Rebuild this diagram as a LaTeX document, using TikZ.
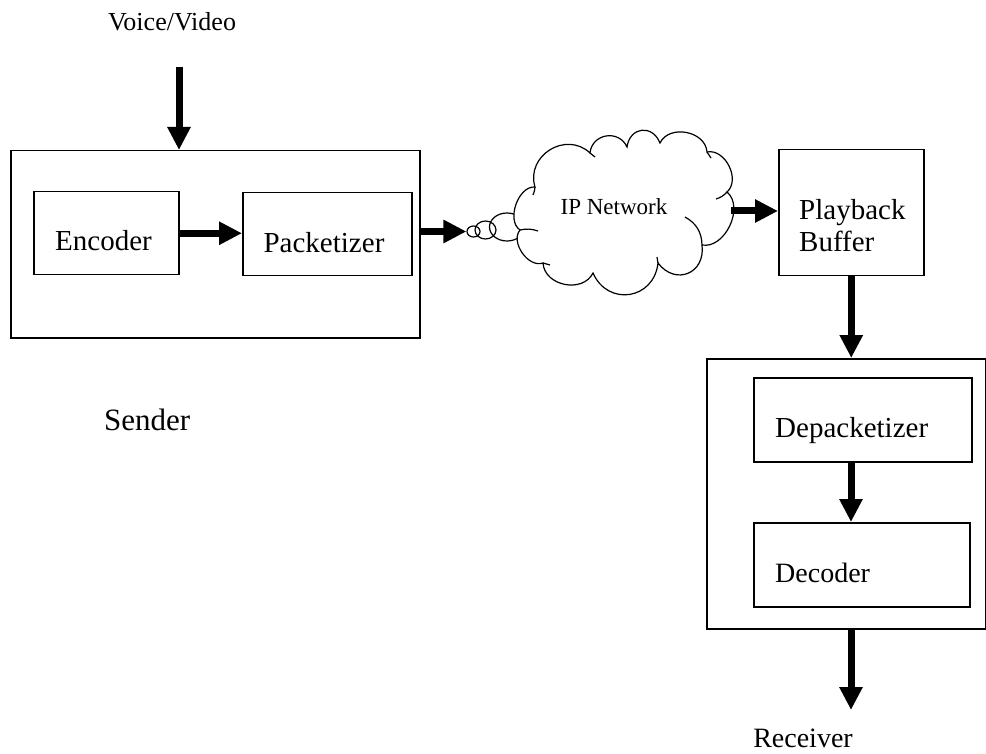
\documentclass[tikz,border=0pt]{standalone}
\usepackage{fontspec}
\setmainfont{Liberation Serif}
\usetikzlibrary{arrows.meta,shapes.geometric}

\tikzset{
  blk/.style={draw,line width=1.5pt,inner sep=0pt},
  flow/.style={line width=7pt,-{Triangle[length=23pt,width=22pt]}},
  txt/.style={inner sep=0pt,font=\fontsize{29}{32}\selectfont},
  bub/.style={draw,ellipse,line width=1.2pt,inner sep=0pt},
  puff/.style={bend left=75,looseness=#1},
  puff/.default=1.2
}

\begin{document}
\begin{tikzpicture}[x=1pt,y=-1pt]
\useasboundingbox (0,0) rectangle (986,754);

% sender
\node[blk,anchor=north west,minimum width=409pt,minimum height=187pt] (sender) at (10,150) {};
\node[blk,anchor=north west,minimum width=145pt,minimum height=83pt] (enc) at (33,191) {};
\node[blk,anchor=north west,minimum width=169pt,minimum height=83pt] (pkt) at (242,192) {};
\node[txt,anchor=base] (enctxt) at (103.5,251) {Encoder};
\node[txt,anchor=base] (pkttxt) at (324,253) {Packetizer};
\node[txt,font=\fontsize{26}{30}\selectfont,anchor=base] (src) at (172,31) {Voice/Video};
\node[txt,font=\fontsize{31}{34}\selectfont,anchor=base west] (sendtxt) at (104,430) {Sender};
\coordinate (in) at (179,67);

% network cloud
\node[bub,minimum width=35pt,minimum height=28pt] (bub3) at (507,227) {};
\node[bub,minimum width=21pt,minimum height=18pt] (bub2) at (485.5,230) {};
\node[bub,minimum width=13pt,minimum height=11pt] (bub1) at (473.5,231.5) {};
\draw[line width=1.2pt,fill=white] (520,230) to[puff=0.95] (535,187) to[puff=1.3] (590,153)
  to[puff=1.34] (627,147) to[puff=1.58] (660,143) to[puff=1.13] (707,152) to[puff=1.06] (727,192)
  to[puff=1.02] (702,245) to[puff=1.55] (658,263) to[puff=1.44] (593,273) to[puff=1.16] (543,263)
  to[puff=0.99] cycle;
\draw[line width=1.2pt] (520,230) to[bend left=15] (538,231);
\draw[line width=1.2pt] (535,187) to[bend left=10] (533,195);
\draw[line width=1.2pt] (590,153) -- (595,157);
\draw[line width=1.2pt] (707,152) to[bend left=10] (711,158);
\draw[line width=1.2pt] (727,192) to[bend left=15] (716,199);
\draw[line width=1.2pt] (702,245) to[bend right=30] (685,217);
\draw[line width=1.2pt] (658,263) -- (657,257);
\draw[line width=1.2pt] (543,263) to[bend left=10] (550,265);
\node[txt,font=\fontsize{23}{26}\selectfont,anchor=base] (net) at (614,215) {IP Network};
\coordinate (net-e) at (731,211);

% receiver
\node[blk,anchor=north west,minimum width=145pt,minimum height=126pt] (play) at (778,149) {};
\node[txt,align=left,anchor=north west] (playtxt) at (799,199) {Playback\\Buffer};
\node[blk,anchor=north west,minimum width=279pt,minimum height=270pt] (recv) at (706,358) {};
\node[blk,anchor=north west,minimum width=218pt,minimum height=84pt] (depkt) at (753,377) {};
\node[blk,anchor=north west,minimum width=216pt,minimum height=84pt] (dec) at (753,522) {};
\node[txt,anchor=base west] (depkttxt) at (775,437) {Depacketizer};
\node[txt,font=\fontsize{28}{31}\selectfont,anchor=base west] (dectxt) at (775,582) {Decoder};
\node[txt,font=\fontsize{28}{31}\selectfont,anchor=base] (recvtxt) at (803,747) {Receiver};
\coordinate (out) at (851,710);

% arrows
\draw[flow] (in) -- (in |- sender.north);
\draw[flow] (enc.east) -- (enc.east -| pkt.west);
\draw[flow] (bub1.west -| sender.east) -- (bub1.west);
\draw[flow] (net-e) -- (net-e -| play.west);
\draw[flow] (play.south) -- (play.south |- recv.north);
\draw[flow] (depkt.south -| out) -- (dec.north -| out);
\draw[flow] (recv.south -| out) -- (out);
\end{tikzpicture}
\end{document}
